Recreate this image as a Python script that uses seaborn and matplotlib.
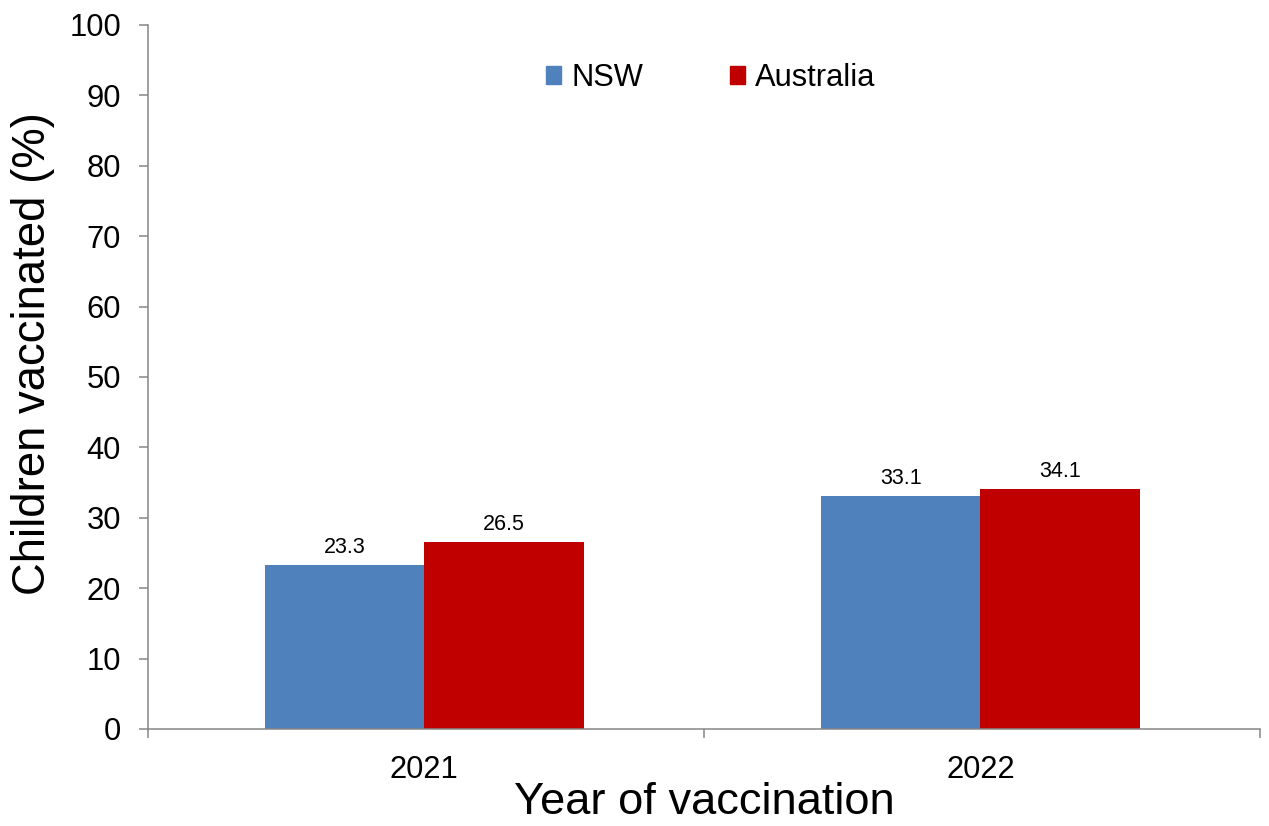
import matplotlib
matplotlib.use("Agg")
import matplotlib.pyplot as plt
import seaborn as sns
import pandas as pd

# Share of children vaccinated by year of vaccination
years = ["2021", "2022"]
regions = ["NSW", "Australia"]
nsw_pct = [23.3, 33.1]
australia_pct = [26.5, 34.1]
y_ticks = [0, 10, 20, 30, 40, 50, 60, 70, 80, 90, 100]

colours = {"NSW": "#4F81BD", "Australia": "#C00000"}
axis_grey = "#868686"

df = pd.DataFrame({
    "year": years * 2,
    "region": ["NSW"] * len(years) + ["Australia"] * len(years),
    "pct": nsw_pct + australia_pct,
})

sns.set_theme(style="ticks")
plt.rcParams["font.family"] = ["Liberation Sans", "DejaVu Sans"]
plt.rcParams["text.color"] = "black"

fig = plt.figure(figsize=(12.69, 8.26), dpi=100)
ax = fig.add_axes([148 / 1269, 1 - 729 / 826, 1112 / 1269, 704 / 826])

sns.barplot(data=df, x="year", y="pct", hue="region", order=years,
            hue_order=regions, palette=colours, width=0.573, gap=0,
            saturation=1, linewidth=0, ax=ax, legend=False)

for cont in ax.containers:
    ax.bar_label(cont, fmt="%.1f", padding=5, fontsize=15.5, color="black")

ax.set_ylim(0, 100)
ax.set_yticks(y_ticks)
ax.set_xlim(-0.497, 1.503)

for side in ("top", "right"):
    ax.spines[side].set_visible(False)
for side in ("left", "bottom"):
    ax.spines[side].set_color(axis_grey)
    ax.spines[side].set_linewidth(1.1)

ax.tick_params(axis="y", which="major", direction="out", length=6.5,
               width=1.1, color=axis_grey, labelsize=22.2, pad=13,
               labelcolor="black")
ax.set_xticks([-0.497, 0.503, 1.503], minor=True)
ax.tick_params(axis="x", which="major", length=0, labelsize=22.2, pad=19,
               labelcolor="black")
ax.tick_params(axis="x", which="minor", direction="out", length=6.5,
               width=1.1, color=axis_grey)

ax.set_xlabel("Year of vaccination", fontsize=32.6, va="center", color="black")
ax.xaxis.set_label_coords(0.5, (729 - 803) / 704)
ax.set_ylabel("Children vaccinated (%)", fontsize=32.8, va="center",
              color="black")
ax.yaxis.set_label_coords((33 - 148) / 1112, (729 - 354) / 704)

handles = [plt.Rectangle((0, 0), 1, 1, color=colours[r]) for r in regions]
ax.legend(handles, regions, loc="center", bbox_to_anchor=(0.506, 0.925),
          ncol=2, frameon=False, fontsize=22.2, labelcolor="black",
          handlelength=0.5, handleheight=0.5, handletextpad=0.33,
          columnspacing=2.8)

fig.savefig("out.png", dpi=100)
